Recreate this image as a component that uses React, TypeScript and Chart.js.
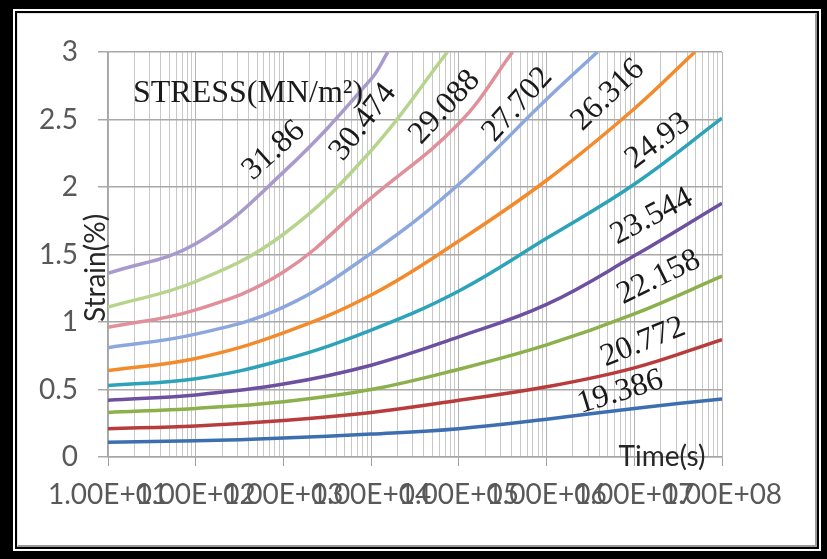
import React, { useEffect, useRef } from "react";
import { Chart, registerables } from "chart.js";

Chart.register(...registerables);

// ---- data ----
const X_DECADES = [1e1, 1e2, 1e3, 1e4, 1e5, 1e6, 1e7, 1e8];
const X_TICK_LABELS = ["1.00E+01", "1.00E+02", "1.00E+03", "1.00E+04", "1.00E+05", "1.00E+06", "1.00E+07", "1.00E+08"];
const Y_TICK_LABELS = ["0", "0.5", "1", "1.5", "2", "2.5", "3"];

const STRESS_LABELS = ["19.386", "20.772", "22.158", "23.544", "24.93", "26.316", "27.702", "29.088", "30.474", "31.86"];

const TIME = [1e1, 1e2, 1e3, 1e4, 1e5, 1e6, 1e7, 1e8];
const strain19_386 = [0.11, 0.12, 0.14, 0.17, 0.21, 0.28, 0.36, 0.43];
const strain20_772 = [0.21, 0.23, 0.27, 0.33, 0.42, 0.52, 0.66, 0.87];
const strain22_158 = [0.33, 0.36, 0.41, 0.5, 0.65, 0.83, 1.06, 1.34];
const strain23_544 = [0.42, 0.46, 0.54, 0.68, 0.89, 1.13, 1.49, 1.88];
const strain24_93 = [0.53, 0.58, 0.72, 0.94, 1.23, 1.62, 2.02, 2.51];
const strain26_316 = [0.64, 0.73, 0.92, 1.2, 1.6, 2.05, 2.58];
const strain27_702 = [0.81, 0.91, 1.11, 1.51, 2.02, 2.65];
const strain29_088 = [0.96, 1.09, 1.37, 1.92, 2.47];
const strain30_474 = [1.11, 1.3, 1.65, 2.27];
const strain31_86 = [1.36, 1.58, 2.11, 2.8];
// time at which a curve leaves the top of the plot (strain = 3)
const EXIT_TIME = [null, null, null, null, null, 4.9e7, 3.8e6, 4.1e5, 7.4e4, 1.55e4];
const EXIT_STRAIN = 3;

const SERIES = [strain19_386, strain20_772, strain22_158, strain23_544, strain24_93, strain26_316, strain27_702, strain29_088, strain30_474, strain31_86];

// ---- styling ----
const COLORS = ["#3D6FB0", "#B83C3C", "#8CB04C", "#6E50A0", "#2CA3B8", "#F38B2D", "#8BA7DD", "#E0909A", "#B6D48C", "#A89ACD"];

// label anchors (in data units) and rotation
const LABEL_LOGT = [6.84, 7.1, 7.28, 7.2, 7.27, 6.7, 5.67, 4.84, 3.91, 2.89];
const LABEL_STRAIN = [0.48, 0.85, 1.33, 1.78, 2.34, 2.68, 2.61, 2.59, 2.48, 2.27];
const LABEL_ANGLE = [-17, -22, -26, -28, -37, -44, -48, -47, -52, -42];

const isDecade = (v: number) => X_DECADES.some((d) => Math.abs(v - d) / d < 1e-9);

const textPlugin = {
  id: "overlayTexts",
  afterDatasetsDraw(chart: any) {
    const { ctx, chartArea } = chart;
    const xs = chart.scales.x;
    const ys = chart.scales.y;
    ctx.save();
    ctx.fillStyle = "#1a1a1a";
    ctx.font = '32px "Liberation Serif"';
    ctx.textAlign = "center";
    ctx.textBaseline = "middle";
    STRESS_LABELS.forEach((lab, i) => {
      const px = xs.getPixelForValue(Math.pow(10, LABEL_LOGT[i]));
      const py = ys.getPixelForValue(LABEL_STRAIN[i]);
      ctx.save();
      ctx.translate(px, py);
      ctx.rotate((LABEL_ANGLE[i] * Math.PI) / 180);
      ctx.fillText(lab, 0, 0);
      ctx.restore();
    });
    // stress heading
    ctx.textAlign = "left";
    ctx.textBaseline = "alphabetic";
    ctx.fillText("STRESS(MN/m²)", chartArea.left + 25, chartArea.top + 50);
    // axis titles
    ctx.fillStyle = "#262626";
    ctx.font = '28px "Lato"';
    ctx.textAlign = "center";
    ctx.textBaseline = "middle";
    ctx.fillText("Time(s)", chartArea.right - 60, chartArea.bottom);
    ctx.save();
    ctx.translate(chartArea.left - 12, ys.getPixelForValue(1.4));
    ctx.rotate(-Math.PI / 2);
    ctx.fillText("Strain(%)", 0, 0);
    ctx.restore();
    ctx.restore();
  },
};

export default function App() {
  const ref = useRef<HTMLCanvasElement | null>(null);

  useEffect(() => {
    if (!ref.current) return;
    const datasets = SERIES.map((vals, i) => {
      const pts: { x: number; y: number }[] = vals.map((v, j) => ({ x: TIME[j], y: v }));
      const et = EXIT_TIME[i];
      if (et !== null) pts.push({ x: et, y: EXIT_STRAIN });
      return {
        label: STRESS_LABELS[i],
        data: pts,
        borderColor: COLORS[i],
        backgroundColor: COLORS[i],
        borderWidth: 3.5,
        pointRadius: 0,
        fill: false,
        tension: 0.4,
      };
    });

    const chart = new Chart(ref.current, {
      type: "line",
      data: { datasets },
      options: {
        animation: false,
        responsive: false,
        devicePixelRatio: 1,
        layout: { padding: { left: 8, right: 105, top: 52, bottom: 50 } },
        plugins: { legend: { display: false }, tooltip: { enabled: false } },
        scales: {
          x: {
            type: "logarithmic",
            min: 1e1,
            max: 1e8,
            afterBuildTicks: (scale: any) => {
              const ticks: any[] = [];
              X_DECADES.forEach((d, k) => {
                ticks.push({ value: d });
                if (k < X_DECADES.length - 1) for (let m = 2; m <= 9; m++) ticks.push({ value: d * m });
              });
              scale.ticks = ticks;
            },
            afterFit: (scale: any) => {
              scale.height = 52;
            },
            ticks: {
              autoSkip: false,
              maxRotation: 0,
              minRotation: 0,
              padding: 12,
              color: "#595959",
              font: { family: "Lato", size: 28 },
              callback: (value: any) => {
                const i = X_DECADES.findIndex((d) => Math.abs(Number(value) - d) / d < 1e-9);
                return i >= 0 ? X_TICK_LABELS[i] : "";
              },
            },
            grid: {
              color: (c: any) => (c.tick && isDecade(c.tick.value) ? "#b4b4b4" : "#c8c8c8"),
              tickColor: (c: any) => (c.tick && isDecade(c.tick.value) ? "#a0a0a0" : "rgba(0,0,0,0)"),
              tickLength: 9,
              lineWidth: 1,
            },
            border: { color: "#a6a6a6", width: 1.5 },
          },
          y: {
            type: "linear",
            min: 0,
            max: 3,
            afterFit: (scale: any) => {
              scale.width = 100;
            },
            ticks: {
              stepSize: 0.5,
              padding: 20,
              color: "#595959",
              font: { family: "Lato", size: 28 },
              callback: (value: any, index: number) => Y_TICK_LABELS[index] ?? "",
            },
            grid: { color: "#a8a8a8", lineWidth: 1.5, tickLength: 10, tickColor: "#a8a8a8" },
            border: { color: "#a6a6a6", width: 1.5 },
          },
        },
      },
      plugins: [textPlugin],
    });
    return () => chart.destroy();
  }, []);

  return (
    <div style={{ position: "fixed", left: 0, top: 0, width: 827, height: 559, background: "#000", overflow: "hidden" }}>
      <div
        style={{
          position: "absolute",
          left: 13,
          top: 9,
          width: 808,
          height: 542,
          background: "#fff",
          padding: 2,
          boxSizing: "border-box",
        }}
      >
        <div
          style={{
            width: "100%",
            height: "100%",
            border: "2px solid #000",
            boxSizing: "border-box",
            background: "#fff",
          }}
        >
          <div
            style={{
              width: "100%",
              height: "100%",
              boxSizing: "border-box",
              borderLeft: "1px solid #e4e4e4",
              borderTop: "1px solid #e4e4e4",
              borderRight: "2px solid #9a9a9a",
              borderBottom: "2px solid #9a9a9a",
            }}
          />
        </div>
      </div>
      <canvas ref={ref} width={827} height={559} style={{ position: "absolute", left: 0, top: 0 }} />
    </div>
  );
}
